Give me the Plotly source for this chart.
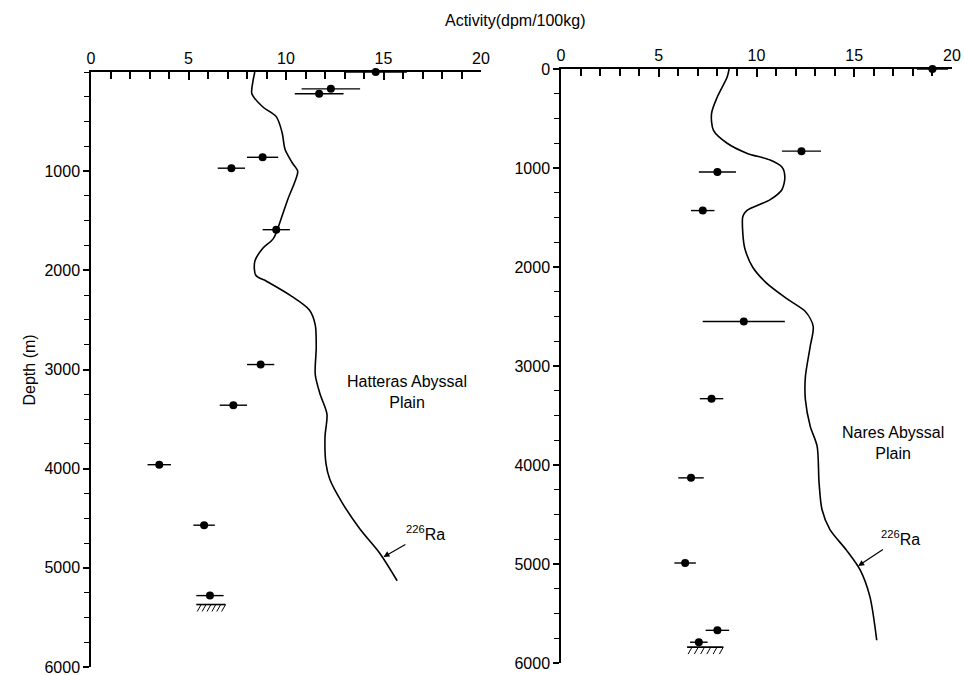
import plotly.graph_objects as go
import numpy as np

# ---------------- data ----------------
# Hatteras Abyssal Plain (left)
hat_pts_x = [14.6, 12.3, 11.7, 8.8, 7.2, 9.5, 8.7, 7.3, 3.5, 5.8, 6.1]
hat_pts_d = [0, 170, 220, 860, 970, 1590, 2950, 3360, 3960, 4570, 5280]
hat_pts_err = [1.6, 1.5, 1.25, 0.8, 0.7, 0.7, 0.7, 0.7, 0.6, 0.55, 0.7]
hat_curve_x = [8.4, 8.3, 8.25, 8.8, 9.5, 9.8, 9.95, 10.3, 10.6, 10.45, 10.1, 9.75, 9.35, 8.8,
               8.4, 8.45, 9.0, 10.2, 11.2, 11.5, 11.55, 11.5, 11.75, 12.1, 12.0, 12.05, 12.25,
               12.9, 13.8, 14.8, 15.7]
hat_curve_d = [0, 100, 220, 350, 450, 610, 780, 910, 1000, 1110, 1280, 1480, 1680, 1780,
               1910, 2050, 2110, 2250, 2400, 2550, 2780, 3050, 3250, 3450, 3680, 3950, 4110,
               4350, 4610, 4850, 5130]
hat_floor_d = 5370
hat_floor_x = [5.4, 6.9]

# Nares Abyssal Plain (right)
nar_pts_x = [19.0, 12.3, 8.0, 7.25, 9.35, 7.7, 6.65, 6.35, 8.0, 7.05]
nar_pts_d = [0, 830, 1040, 1430, 2550, 3330, 4130, 4990, 5670, 5790]
nar_pts_err = [0.8, 1.0, 0.95, 0.6, 2.1, 0.6, 0.65, 0.55, 0.6, 0.45]
nar_curve_x = [8.6, 8.5, 8.0, 7.7, 7.8, 8.5, 9.5, 10.7, 11.3, 11.45, 11.3, 10.7, 9.5, 9.3,
               9.3, 9.4, 9.8, 10.5, 11.55, 12.5, 12.9, 12.75, 12.5, 12.5, 12.75, 13.1, 13.2,
               13.35, 13.75, 14.6, 15.3, 15.8, 16.15]
nar_curve_d = [0, 80, 280, 450, 620, 750, 850, 920, 990, 1090, 1220, 1320, 1430, 1490,
               1660, 1810, 2000, 2160, 2320, 2450, 2600, 2800, 3110, 3340, 3610, 3810, 4180,
               4450, 4650, 4860, 5060, 5330, 5770]
nar_floor_d = 5840
nar_floor_x = [6.45, 8.3]

x_tick_vals = [0, 5, 10, 15, 20]
x_tick_text = ["0", "5", "10", "15", "20"]
left_y_vals = [1000, 2000, 3000, 4000, 5000, 6000]
right_y_vals = [0, 1000, 2000, 3000, 4000, 5000, 6000]

W, H = 964, 675
FONT = "Liberation Sans, Arial, sans-serif"

fig = go.Figure()


def add_panel(px, pd_, perr, cx, cd, floor_d, floor_x, xa, ya):
    fig.add_trace(go.Scatter(x=cx, y=cd, mode="lines", line=dict(color="black", width=1.6, shape="spline", smoothing=0.8),
                             xaxis=xa, yaxis=ya, showlegend=False, hoverinfo="skip"))
    fig.add_trace(go.Scatter(x=px, y=pd_, mode="markers",
                             marker=dict(color="black", size=8),
                             error_x=dict(type="data", array=perr, color="black", thickness=1.4, width=0),
                             xaxis=xa, yaxis=ya, showlegend=False, cliponaxis=False))
    # sea floor line + hatching
    fig.add_trace(go.Scatter(x=floor_x, y=[floor_d, floor_d], mode="lines", line=dict(color="black", width=1.6),
                             xaxis=xa, yaxis=ya, showlegend=False, hoverinfo="skip"))
    hx, hy = [], []
    for k in np.linspace(floor_x[0] + 0.25, floor_x[1], 6):
        hx += [k, k - 0.2, None]
        hy += [floor_d, floor_d + 70, None]
    fig.add_trace(go.Scatter(x=hx, y=hy, mode="lines", line=dict(color="black", width=1),
                             xaxis=xa, yaxis=ya, showlegend=False, hoverinfo="skip"))


add_panel(hat_pts_x, hat_pts_d, hat_pts_err, hat_curve_x, hat_curve_d, hat_floor_d, hat_floor_x, "x", "y")
add_panel(nar_pts_x, nar_pts_d, nar_pts_err, nar_curve_x, nar_curve_d, nar_floor_d, nar_floor_x, "x2", "y2")

xcommon = dict(range=[0, 20], side="top", showline=True, linecolor="black", linewidth=1.5,
               tickvals=x_tick_vals, ticktext=x_tick_text, ticks="inside", ticklen=8, tickwidth=1.5,
               tickcolor="black", minor=dict(dtick=1, ticks="inside", ticklen=7, tickcolor="black", tickwidth=1.5),
               showgrid=False, zeroline=False, automargin=False, ticklabeloverflow="allow",
               tickfont=dict(size=16, color="black", family=FONT))
ycommon = dict(range=[6000, 0], showline=True, linecolor="black", linewidth=1.5,
               ticks="outside", ticklen=6, tickwidth=1.5, tickcolor="black",
               minor=dict(dtick=250, ticks="outside", ticklen=5, tickcolor="black", tickwidth=1.2),
               showgrid=False, zeroline=False, automargin=False, ticklabeloverflow="allow",
               tickfont=dict(size=16, color="black", family=FONT))

fig.update_layout(
    width=W, height=H, margin=dict(l=0, r=0, t=0, b=0, pad=0, autoexpand=False),
    plot_bgcolor="white", paper_bgcolor="white",
    font=dict(family=FONT, color="black"),
    xaxis=dict(domain=[91 / W, 481 / W], anchor="y", **xcommon),
    yaxis=dict(domain=[1 - 667 / H, 1 - 72 / H], anchor="x", tickvals=left_y_vals,
               ticktext=[str(v) for v in left_y_vals], **ycommon),
    xaxis2=dict(domain=[561 / W, 952 / W], anchor="y2", **xcommon),
    yaxis2=dict(domain=[1 - 663 / H, 1 - 69 / H], anchor="x2", tickvals=right_y_vals,
                ticktext=[str(v) for v in right_y_vals], **ycommon),
)

ann = [
    dict(text="Activity(dpm/100kg)", x=515 / W, y=1 - 21 / H, xref="paper", yref="paper",
         yanchor="middle", showarrow=False, font=dict(size=16, family=FONT)),
    dict(text="Depth (m)", x=18 / W, y=1 - 370 / H, xref="paper", yref="paper", textangle=-90,
         showarrow=False, font=dict(size=16, family=FONT)),
    dict(text="Hatteras Abyssal<br>Plain", x=16.2, y=3225, xref="x", yref="y", showarrow=False,
         font=dict(size=16, family=FONT)),
    dict(text="Nares Abyssal<br>Plain", x=17.0, y=3780, xref="x2", yref="y2", showarrow=False,
         font=dict(size=16, family=FONT)),
    dict(text="<sup>226</sup>Ra", x=15.0, y=4890, xref="x", yref="y", ax=42, ay=-24,
         showarrow=True, arrowhead=2, arrowsize=1, arrowwidth=1.2, arrowcolor="black",
         font=dict(size=16, family=FONT)),
    dict(text="<sup>226</sup>Ra", x=15.2, y=5020, xref="x2", yref="y2", ax=42, ay=-28,
         showarrow=True, arrowhead=2, arrowsize=1, arrowwidth=1.2, arrowcolor="black",
         font=dict(size=16, family=FONT)),
]
fig.update_layout(annotations=ann)

fig.write_html("out.html", config={"displayModeBar": False})

# remove the default page margin so the figure sits at the window's top-left corner
with open("out.html", "r", encoding="utf-8") as f:
    html = f.read()
html = html.replace("<head>", "<head><style>html,body{margin:0;padding:0;overflow:hidden;}</style>", 1)
with open("out.html", "w", encoding="utf-8") as f:
    f.write(html)
